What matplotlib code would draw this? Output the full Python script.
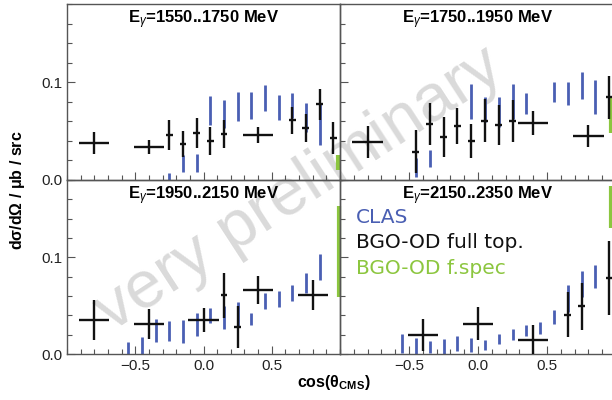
import matplotlib
matplotlib.use("Agg")
import matplotlib.pyplot as plt
from matplotlib.ticker import MultipleLocator, FixedLocator

plt.rcParams['font.family'] = ['Liberation Sans', 'DejaVu Sans']
plt.rcParams['mathtext.fontset'] = 'custom'
plt.rcParams['mathtext.rm'] = 'Liberation Sans'
plt.rcParams['mathtext.it'] = 'Liberation Sans:italic'
plt.rcParams['mathtext.bf'] = 'Liberation Sans:bold'

# panel titles
titles = ["1550..1750", "1750..1950", "1950..2150", "2150..2350"]

# BGO-OD full topology (black)
bgo_x_1 = [-0.8, -0.4, -0.25, -0.15, -0.05, 0.05, 0.15, 0.4, 0.65, 0.75, 0.85, 0.95]
bgo_y_1 = [0.0376, 0.034, 0.046, 0.037, 0.048, 0.040, 0.047, 0.046, 0.061, 0.053, 0.0775, 0.043]
bgo_ey_1 = [0.011, 0.0073, 0.015, 0.013, 0.015, 0.014, 0.0145, 0.008, 0.014, 0.014, 0.016, 0.016]
bgo_ex_1 = [0.11, 0.11, 0.025, 0.025, 0.025, 0.025, 0.025, 0.11, 0.025, 0.025, 0.025, 0.025]

bgo_x_2 = [-0.8, -0.45, -0.35, -0.25, -0.15, -0.05, 0.05, 0.15, 0.25, 0.4, 0.8, 0.95]
bgo_y_2 = [0.039, 0.029, 0.057, 0.0443, 0.0553, 0.040, 0.0607, 0.0563, 0.0604, 0.0587, 0.045, 0.0846]
bgo_ey_2 = [0.016, 0.0218, 0.0213, 0.0205, 0.0188, 0.017, 0.0223, 0.02, 0.0213, 0.0123, 0.0114, 0.0218]
bgo_ex_2 = [0.11, 0.025, 0.025, 0.025, 0.025, 0.025, 0.025, 0.025, 0.025, 0.11, 0.11, 0.025]

bgo_x_3 = [-0.8, -0.4, 0.0, 0.15, 0.25, 0.4, 0.8]
bgo_y_3 = [0.0354, 0.0312, 0.0354, 0.0607, 0.0277, 0.066, 0.0614]
bgo_ey_3 = [0.0208, 0.0158, 0.0123, 0.0233, 0.022, 0.0146, 0.0156]
bgo_ex_3 = [0.11, 0.11, 0.11, 0.025, 0.025, 0.11, 0.11]

bgo_x_4 = [-0.4, 0.0, 0.4, 0.65, 0.75, 0.95]
bgo_y_4 = [0.0201, 0.0312, 0.0146, 0.0406, 0.0493, 0.0788]
bgo_ey_4 = [0.0165, 0.017, 0.0151, 0.0234, 0.0243, 0.038]
bgo_ex_4 = [0.11, 0.11, 0.11, 0.025, 0.025, 0.025]

# CLAS (blue)
clas_x_1 = [-0.25, -0.15, -0.05, 0.05, 0.15, 0.25, 0.35, 0.45, 0.55, 0.65, 0.75, 0.85]
clas_y_1 = [0.0025, 0.017, 0.0175, 0.071, 0.0675, 0.075, 0.076, 0.084, 0.074, 0.076, 0.064, 0.057]
clas_e_1 = [0.0045, 0.0085, 0.009, 0.015, 0.0145, 0.0147, 0.014, 0.0133, 0.0128, 0.0128, 0.015, 0.021]

clas_x_2 = [-0.45, -0.35, -0.05, 0.05, 0.15, 0.25, 0.35, 0.55, 0.65, 0.75, 0.85]
clas_y_2 = [0.013, 0.022, 0.080, 0.072, 0.070, 0.080, 0.078, 0.090, 0.0887, 0.0967, 0.085]
clas_e_2 = [0.010, 0.009, 0.018, 0.013, 0.0153, 0.018, 0.011, 0.0103, 0.012, 0.014, 0.0177]

clas_x_3 = [-0.55, -0.45, -0.35, -0.25, -0.15, -0.05, 0.05, 0.15, 0.25, 0.35, 0.45, 0.55, 0.65, 0.75, 0.85]
clas_y_3 = [0.006, 0.0087, 0.024, 0.024, 0.023, 0.0306, 0.040, 0.038, 0.041, 0.036, 0.055, 0.057, 0.063, 0.073, 0.090]
clas_e_3 = [0.006, 0.0087, 0.012, 0.0104, 0.012, 0.0116, 0.008, 0.012, 0.013, 0.0065, 0.008, 0.008, 0.008, 0.0104, 0.0135]

clas_x_4 = [-0.55, -0.45, -0.35, -0.25, -0.15, -0.05, 0.05, 0.15, 0.25, 0.35, 0.45, 0.55, 0.65, 0.75, 0.85]
clas_y_4 = [0.0107, 0.0085, 0.0072, 0.008, 0.011, 0.009, 0.009, 0.0156, 0.020, 0.024, 0.027, 0.038, 0.057, 0.0725, 0.080]
clas_e_4 = [0.010, 0.008, 0.0066, 0.0075, 0.0074, 0.0073, 0.005, 0.0052, 0.006, 0.0056, 0.006, 0.0073, 0.014, 0.0135, 0.012]

# BGO-OD forward spectrometer (green)
fspec_x = [0.985, 0.965, 0.99, 0.965]
fspec_y = [0.018, 0.066, 0.106, 0.152]
fspec_e = [0.008, 0.018, 0.047, 0.022]

blue = '#4a5fb3'
green = '#8cc63f'

fig = plt.figure(figsize=(6.12, 4.0), dpi=100)

# watermark, behind the panels
fig.text(300 / 612, 1 - 190 / 400, "very preliminary", rotation=33, fontsize=48,
         color='#dadada', ha='center', va='center', zorder=-1)

# panel rectangles (left, bottom, width, height)
rects = [
    [67 / 612, 0.55, 273 / 612, 0.44],
    [340 / 612, 0.55, 276 / 612, 0.44],
    [67 / 612, 0.115, 273 / 612, 0.435],
    [340 / 612, 0.115, 276 / 612, 0.435],
]

bgo = [(bgo_x_1, bgo_y_1, bgo_ex_1, bgo_ey_1),
       (bgo_x_2, bgo_y_2, bgo_ex_2, bgo_ey_2),
       (bgo_x_3, bgo_y_3, bgo_ex_3, bgo_ey_3),
       (bgo_x_4, bgo_y_4, bgo_ex_4, bgo_ey_4)]
clas = [(clas_x_1, clas_y_1, clas_e_1),
        (clas_x_2, clas_y_2, clas_e_2),
        (clas_x_3, clas_y_3, clas_e_3),
        (clas_x_4, clas_y_4, clas_e_4)]

axes = []
for i in range(4):
    ax = fig.add_axes(rects[i])
    ax.patch.set_alpha(0)
    axes.append(ax)
    ax.set_xlim(-1, 1)
    ax.set_ylim(0, 0.18)

    cx, cy, ce = clas[i]
    ax.errorbar(cx, cy, yerr=ce, fmt='none', ecolor=blue, elinewidth=2.0, capsize=0, zorder=2)
    bx, by, bex, bey = bgo[i]
    ax.errorbar(bx, by, xerr=bex, yerr=bey, fmt='none', ecolor='#111111', elinewidth=1.7,
                capsize=0, zorder=3)
    eb = ax.errorbar([fspec_x[i]], [fspec_y[i]], yerr=[fspec_e[i]], fmt='none', ecolor=green,
                     elinewidth=3.0, capsize=0, zorder=2)
    for c in eb.get_children():
        c.set_clip_on(False)

    ax.text(0.5, 0.975, r"E$_{\gamma}$=" + titles[i] + " MeV", transform=ax.transAxes,
            ha='center', va='top', fontsize=12, fontweight='bold')

    ax.xaxis.set_major_locator(FixedLocator([-0.5, 0.0, 0.5]))
    ax.xaxis.set_minor_locator(MultipleLocator(0.1))
    ax.yaxis.set_major_locator(FixedLocator([0.0, 0.1]))
    ax.yaxis.set_minor_locator(MultipleLocator(0.02))
    ax.tick_params(which='both', direction='in', top=False, right=False, color='#555555',
                   labelsize=11, labelcolor='#222222', width=0.8)
    ax.tick_params(which='major', length=6)
    ax.tick_params(which='minor', length=3.5)
    ax.yaxis.set_major_formatter(plt.FuncFormatter(lambda v, p: "%.1f" % v))
    ax.xaxis.set_major_formatter(plt.FuncFormatter(lambda v, p: ("%.1f" % v).replace('-', '\u2212')))
    if i in (0, 1):
        ax.tick_params(labelbottom=False)
    if i in (1, 3):
        ax.tick_params(labelleft=False)
    for s in ax.spines.values():
        s.set_color('#555555')
        s.set_linewidth(1.0)

# legend text in the last panel
leg = axes[3]
leg.text(0.058, 0.782, "CLAS", color=blue, fontsize=14.5, family='DejaVu Sans',
         transform=leg.transAxes, va='center', ha='left')
leg.text(0.058, 0.638, "BGO-OD full top.", color='#111111', fontsize=14.5, family='DejaVu Sans',
         transform=leg.transAxes, va='center', ha='left')
leg.text(0.058, 0.494, "BGO-OD f.spec", color=green, fontsize=14.5, family='DejaVu Sans',
         transform=leg.transAxes, va='center', ha='left')

fig.text(18 / 612, 1 - 190 / 400, r"d$\mathbf{\sigma}$/d$\mathbf{\Omega}$ / $\mathbf{\mu}$b / src",
         rotation=90, ha='center', va='center', fontsize=11.5, fontweight='bold')
fig.text(334 / 612, 1 - 383 / 400, r"cos($\mathbf{\theta}_{\mathbf{CMS}}$)",
         ha='center', va='center', fontsize=11.5, fontweight='bold')

fig.savefig("out.png", dpi=100)
